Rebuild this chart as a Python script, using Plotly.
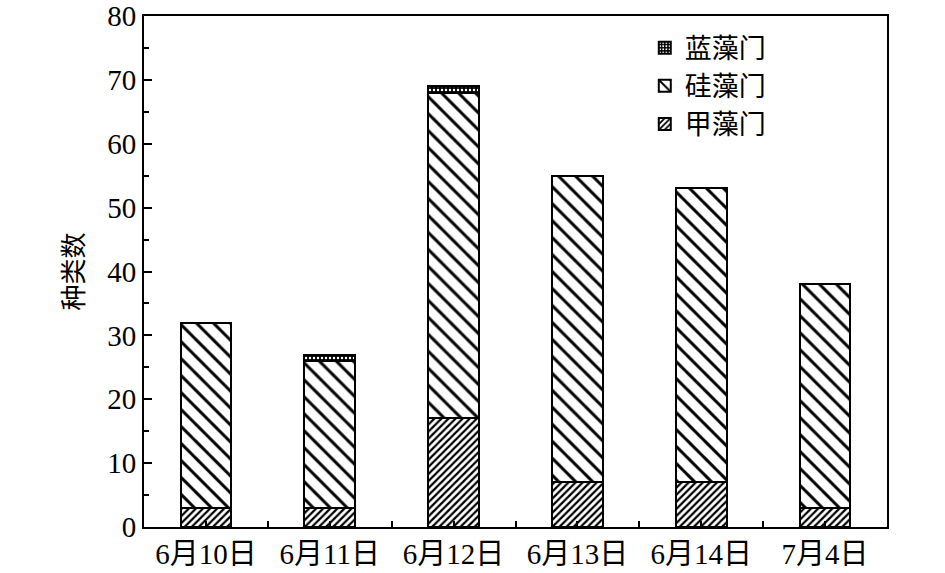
import plotly.graph_objects as go

categories = ["6月10日", "6月11日", "6月12日", "6月13日", "6月14日", "7月4日"]
jia = [3, 3, 17, 7, 7, 3]        # 甲藻门
gui = [29, 23, 51, 48, 46, 35]   # 硅藻门
lan = [0, 1, 1, 0, 0, 0]         # 蓝藻门
y_ticks = [0, 10, 20, 30, 40, 50, 60, 70, 80]

xpos = list(range(len(categories)))
FONT = "Liberation Serif, Times New Roman, Noto Sans CJK SC, serif"

fig = go.Figure()
line = dict(color="black", width=2)
fig.add_trace(go.Bar(
    x=xpos, y=jia, name="甲藻门", width=0.41,
    marker=dict(color="white", line=line,
                pattern=dict(shape="/", fgcolor="black", bgcolor="white", fgopacity=1,
                             size=5, solidity=0.45)),
))
fig.add_trace(go.Bar(
    x=xpos, y=gui, name="硅藻门", width=0.41,
    marker=dict(color="white", line=line,
                pattern=dict(shape="\\", fgcolor="black", bgcolor="white", fgopacity=1,
                             size=12, solidity=0.25)),
))
fig.add_trace(go.Bar(
    x=xpos, y=lan, name="蓝藻门", width=0.41,
    marker=dict(color="black", line=line,
                pattern=dict(shape=".", fgcolor="white", bgcolor="black", fgopacity=1,
                             size=4, solidity=0.3)),
))

fig.update_layout(
    barmode="stack",
    width=945, height=573,
    margin=dict(l=144, r=58, t=16, b=46),
    paper_bgcolor="white", plot_bgcolor="white",
    font=dict(family=FONT, size=29, color="black"),
    showlegend=True,
    legend=dict(x=0.674, y=0.985, xanchor="left", yanchor="top",
                traceorder="reversed", bgcolor="rgba(0,0,0,0)",
                font=dict(size=27, family="Noto Sans CJK SC"),
                itemwidth=30, tracegroupgap=0),
    xaxis=dict(
        range=[-0.5, 5.5], tickmode="array", tickvals=xpos, ticktext=categories,
        ticks="inside", ticklen=6, tickwidth=2, tickcolor="black",
        showline=True, linewidth=2, linecolor="black", mirror=True,
        showgrid=False, zeroline=False, automargin=False,
        minor=dict(tickmode="linear", tick0=0.5, dtick=1, ticks="inside", ticklen=6, tickwidth=2, tickcolor="black"),
        tickfont=dict(size=29, family=FONT),
    ),
    yaxis=dict(
        range=[0, 80], tickmode="array", tickvals=y_ticks,
        ticks="inside", ticklen=8, tickwidth=2, tickcolor="black",
        showline=True, linewidth=2, linecolor="black", mirror=True,
        showgrid=False, zeroline=False, automargin=False,
        minor=dict(tickmode="linear", tick0=5, dtick=10, ticks="inside", ticklen=5, tickwidth=2, tickcolor="black"),
        title=dict(text="种类数", font=dict(size=26, family="Noto Sans CJK SC"), standoff=16),
        tickfont=dict(size=29, family=FONT),
    ),
)

fig.write_html("out.html", config={"displayModeBar": False},
               post_script="document.body.style.margin='0';")
